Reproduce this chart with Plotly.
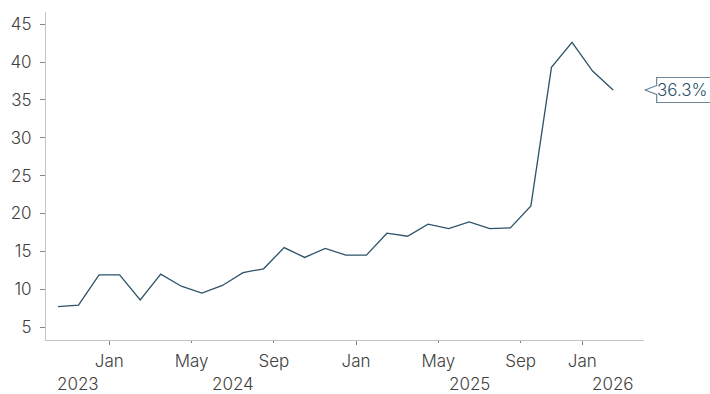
import plotly.graph_objects as go

# Monthly series (percent)
values = [7.7, 7.9, 11.9, 11.9, 8.6, 12.0, 10.4, 9.5, 10.5, 12.2,
          12.7, 15.5, 14.2, 15.4, 14.5, 14.5, 17.4, 17.0, 18.6, 18.0,
          18.9, 18.0, 18.1, 21.0, 39.3, 42.6, 38.8, 36.3]
positions = list(range(len(values)))

# Month tick marks (between observations) and their labels
month_ticks = [2.5, 6.5, 10.5, 14.5, 18.5, 22.5, 25.5]
month_labels = ["Jan", "May", "Sep", "Jan", "May", "Sep", "Jan"]
year_starts = [2.5, 14.5, 25.5]
years = ["2023", "2024", "2025", "2026"]

y_ticks = [5, 10, 15, 20, 25, 30, 35, 40, 45]

LINE = "#2c5369"
TEXT = "#404040"
AXIS = "#c4c4c4"
FONT = "Inter"
FSIZE = 17

x_range = [-0.58, 28.5]
y_range = [3.3, 46.6]

tick_font = dict(family=FONT, size=FSIZE, color=TEXT, weight=300)

fig = go.Figure()
fig.add_trace(go.Scatter(
    x=positions, y=values, mode="lines",
    line=dict(color=LINE, width=1.3),
    hoverinfo="skip", showlegend=False,
))

# Year captions centred on each year's span of the axis
bounds = [x_range[0]] + year_starts + [x_range[1]]
annotations = []
for i, yr in enumerate(years):
    annotations.append(dict(
        x=(bounds[i] + bounds[i + 1]) / 2, y=0, xref="x", yref="paper",
        text=yr, showarrow=False, yanchor="middle", yshift=-44,
        font=tick_font,
    ))

# Callout for the latest value
last_x = positions[-1]
last_y = values[-1]
px = (last_x - x_range[0]) / (x_range[1] - x_range[0])
py = (last_y - y_range[0]) / (y_range[1] - y_range[0])
annotations.append(dict(
    x=px, y=py, xref="paper", yref="paper",
    text=f"{last_y}%", showarrow=False, xanchor="left", yanchor="middle",
    xshift=42, font=dict(family=FONT, size=FSIZE, color=LINE, weight=300),
))

shapes = [dict(
    type="path", xref="paper", yref="paper",
    xsizemode="pixel", ysizemode="pixel", xanchor=px, yanchor=py,
    path="M 43.5 4.5 L 32 0 L 43.5 -4.5 L 43.5 -12.5 L 110 -12.5 L 110 12.5 L 43.5 12.5 Z",
    line=dict(color="#6d8799", width=1.2), fillcolor="rgba(255,255,255,0)",
)]

fig.update_layout(
    width=710, height=394,
    margin=dict(l=46, r=66, t=12, b=54, autoexpand=False),
    paper_bgcolor="white", plot_bgcolor="white",
    font=dict(family=FONT, size=FSIZE, color=TEXT),
    annotations=annotations,
    shapes=shapes,
    xaxis=dict(
        range=x_range, showgrid=False, zeroline=False, automargin=False,
        showline=True, linecolor=AXIS, linewidth=1,
        tickmode="array", tickvals=month_ticks, ticktext=month_labels,
        ticks="outside", ticklen=2, tickcolor="#888", tickwidth=1,
        ticklabelstandoff=4,
        tickfont=tick_font,
        minor=dict(tickmode="array", tickvals=year_starts,
                   ticks="outside", ticklen=4, tickcolor="#888", tickwidth=1),
    ),
    yaxis=dict(
        range=y_range, showgrid=False, zeroline=False, automargin=False,
        showline=True, linecolor=AXIS, linewidth=1,
        tickmode="array", tickvals=y_ticks,
        ticks="outside", ticklen=5, tickcolor="#888", tickwidth=1,
        ticklabelstandoff=5,
        tickfont=tick_font,
    ),
)

fig.write_html("out.html")
